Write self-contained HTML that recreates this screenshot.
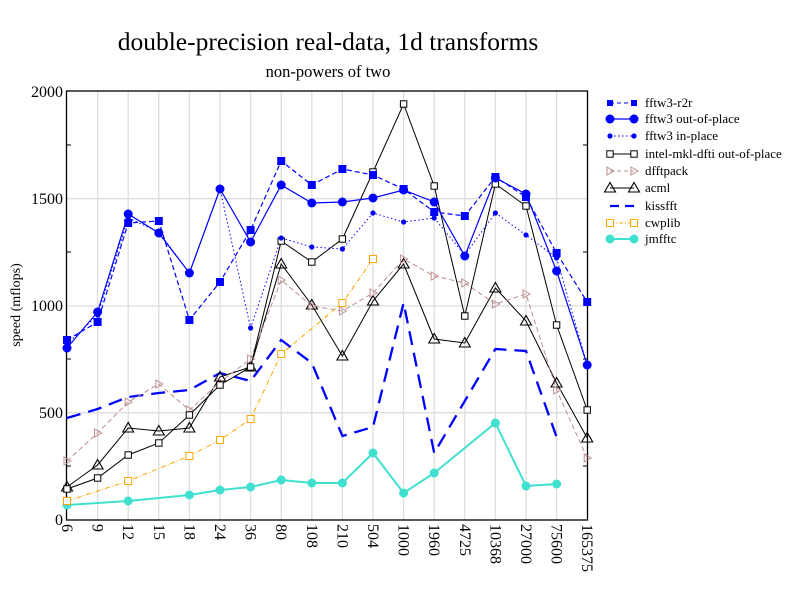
<!DOCTYPE html>
<html><head><meta charset="utf-8"><style>body{margin:0;background:#fff}svg{display:block}text{font-family:"Liberation Serif",serif;fill:#000}</style></head>
<body>
<svg width="792" height="612" viewBox="0 0 792 612" xmlns="http://www.w3.org/2000/svg">
<defs>
<g id="sqf"><rect x="-4" y="-4" width="8" height="8" fill="#00f"/></g>
<g id="cif"><circle r="4.5" fill="#00f"/></g>
<g id="dot"><circle r="2.6" fill="#00f"/></g>
<g id="sqo"><rect x="-3.2" y="-3.2" width="6.4" height="6.4" fill="#fff" stroke="#000" stroke-width="1"/></g>
<g id="trr"><path d="M-3,-4 L4,0 L-3,4 Z" fill="none" stroke="#bc8f8f" stroke-width="1"/></g>
<g id="tru"><path d="M-5.5,4 L0,-5.5 L5.5,4 Z" fill="none" stroke="#000" stroke-width="1.1"/></g>
<g id="sqor"><rect x="-3.5" y="-3.5" width="7" height="7" fill="#fff" stroke="#ffa500" stroke-width="1"/></g>
<g id="tq"><circle r="4.5" fill="#40e0d0"/></g>
</defs>
<text x="328" y="50" font-size="25.5" text-anchor="middle">double-precision real-data, 1d transforms</text>
<text x="328" y="77" font-size="16.5" text-anchor="middle">non-powers of two</text>
<g stroke="#dddddd" stroke-width="1.3">
<line x1="97.6" y1="91" x2="97.6" y2="520"/><line x1="128.2" y1="91" x2="128.2" y2="520"/><line x1="158.8" y1="91" x2="158.8" y2="520"/><line x1="189.4" y1="91" x2="189.4" y2="520"/><line x1="220" y1="91" x2="220" y2="520"/><line x1="250.6" y1="91" x2="250.6" y2="520"/><line x1="281.2" y1="91" x2="281.2" y2="520"/><line x1="311.8" y1="91" x2="311.8" y2="520"/><line x1="342.4" y1="91" x2="342.4" y2="520"/><line x1="373" y1="91" x2="373" y2="520"/><line x1="403.6" y1="91" x2="403.6" y2="520"/><line x1="434.2" y1="91" x2="434.2" y2="520"/><line x1="464.8" y1="91" x2="464.8" y2="520"/><line x1="495.4" y1="91" x2="495.4" y2="520"/><line x1="526" y1="91" x2="526" y2="520"/><line x1="556.6" y1="91" x2="556.6" y2="520"/>
<line x1="67" y1="198.7" x2="587" y2="198.7"/><line x1="67" y1="306" x2="587" y2="306"/><line x1="67" y1="412.7" x2="587" y2="412.7"/>
</g>
<g stroke="#000" stroke-width="1">
<line x1="67" y1="145" x2="71" y2="145"/><line x1="67" y1="252" x2="71" y2="252"/><line x1="67" y1="359" x2="71" y2="359"/><line x1="67" y1="466" x2="71" y2="466"/>
<line x1="583" y1="145" x2="587" y2="145"/><line x1="583" y1="252" x2="587" y2="252"/><line x1="583" y1="359" x2="587" y2="359"/><line x1="583" y1="466" x2="587" y2="466"/>
</g>
<rect x="66.5" y="91" width="521" height="429" fill="none" stroke="#000" stroke-width="1.3"/>
<g font-size="16" text-anchor="end">
<text x="63" y="97">2000</text><text x="63" y="204">1500</text><text x="63" y="311">1000</text><text x="63" y="418">500</text><text x="63" y="525">0</text>
</g>
<text transform="translate(20,305) rotate(-90)" font-size="14" text-anchor="middle">speed (mflops)</text>
<g font-size="16">
<text transform="translate(62,524) rotate(90)">6</text>
<text transform="translate(92.6,524) rotate(90)">9</text>
<text transform="translate(123.2,524) rotate(90)">12</text>
<text transform="translate(153.8,524) rotate(90)">15</text>
<text transform="translate(184.4,524) rotate(90)">18</text>
<text transform="translate(215,524) rotate(90)">24</text>
<text transform="translate(245.6,524) rotate(90)">36</text>
<text transform="translate(276.2,524) rotate(90)">80</text>
<text transform="translate(306.8,524) rotate(90)">108</text>
<text transform="translate(337.4,524) rotate(90)">210</text>
<text transform="translate(368,524) rotate(90)">504</text>
<text transform="translate(398.6,524) rotate(90)">1000</text>
<text transform="translate(429.2,524) rotate(90)">1960</text>
<text transform="translate(459.8,524) rotate(90)">4725</text>
<text transform="translate(490.4,524) rotate(90)">10368</text>
<text transform="translate(521,524) rotate(90)">27000</text>
<text transform="translate(551.6,524) rotate(90)">75600</text>
<text transform="translate(582.2,524) rotate(90)">165375</text>
</g>
<g fill="none">
<polyline stroke="#40e0d0" stroke-width="2" points="67,505 128.2,501 189.4,495 220,490 250.6,487 281.2,480 311.8,483 342.4,483 373,453 403.6,493 434.2,473 495.4,423 526,486 556.6,484"/>
<polyline stroke="#ffa500" stroke-width="1" stroke-dasharray="5,2,1,2" points="67,501 128.2,481 189.4,456 220,440 250.6,419 281.2,354 342.4,303 373,259"/>
<polyline stroke="#00f" stroke-width="2.3" stroke-dasharray="14,8" points="67,418 97.6,409 128.2,397 158.8,393 189.4,390 220,373 250.6,381 281.2,340 311.8,363 342.4,436 373,427 403.6,303 434.2,453 464.8,401 495.4,349 526,351 556.6,437"/>
<polyline stroke="#000" stroke-width="1" points="67,487 97.6,465 128.2,428 158.8,431 189.4,428 220,377 250.6,367 281.2,264 311.8,305 342.4,356 373,301 403.6,264 434.2,339 464.8,343 495.4,288 526,321 556.6,383 587.2,438"/>
<polyline stroke="#bc8f8f" stroke-width="1" stroke-dasharray="5,3" points="67,461 97.6,433 128.2,402 158.8,384 189.4,410 220,382 250.6,359 281.2,280 311.8,306 342.4,311 373,293 403.6,259 434.2,276 464.8,283 495.4,304 526,294 556.6,390 587.2,458"/>
<polyline stroke="#000" stroke-width="1" points="67,489 97.6,478 128.2,455 158.8,443 189.4,415 220,385 250.6,367 281.2,241 311.8,262 342.4,239 373,172 403.6,104 434.2,186 464.8,316 495.4,184 526,206 556.6,325 587.2,410"/>
<polyline stroke="#00f" stroke-width="1" stroke-dasharray="1.5,2.5" points="67,344 97.6,315 128.2,218 158.8,232 189.4,273 220,189 250.6,328 281.2,238 311.8,247 342.4,249 373,213 403.6,222 434.2,218 464.8,255 495.4,213 526,235 556.6,258 587.2,365"/>
<polyline stroke="#00f" stroke-width="1.2" points="67,348 97.6,312 128.2,214 158.8,233 189.4,273 220,189 250.6,242 281.2,185 311.8,203 342.4,202 373,198 403.6,190 434.2,202 464.8,256 495.4,178 526,194 556.6,271 587.2,365"/>
<polyline stroke="#00f" stroke-width="1.2" stroke-dasharray="5,3" points="67,340 97.6,322 128.2,223 158.8,221 189.4,320 220,282 250.6,230 281.2,161 311.8,185 342.4,169 373,175 403.6,189 434.2,212 464.8,216 495.4,177 526,197 556.6,253 587.2,302"/>
</g>
<g>
<use href="#tq" x="67" y="505"/><use href="#tq" x="128.2" y="501"/><use href="#tq" x="189.4" y="495"/><use href="#tq" x="220" y="490"/><use href="#tq" x="250.6" y="487"/><use href="#tq" x="281.2" y="480"/><use href="#tq" x="311.8" y="483"/><use href="#tq" x="342.4" y="483"/><use href="#tq" x="373" y="453"/><use href="#tq" x="403.6" y="493"/><use href="#tq" x="434.2" y="473"/><use href="#tq" x="495.4" y="423"/><use href="#tq" x="526" y="486"/><use href="#tq" x="556.6" y="484"/>
<use href="#sqor" x="67" y="501"/><use href="#sqor" x="128.2" y="481"/><use href="#sqor" x="189.4" y="456"/><use href="#sqor" x="220" y="440"/><use href="#sqor" x="250.6" y="419"/><use href="#sqor" x="281.2" y="354"/><use href="#sqor" x="342.4" y="303"/><use href="#sqor" x="373" y="259"/>
<use href="#tru" x="67" y="487"/><use href="#tru" x="97.6" y="465"/><use href="#tru" x="128.2" y="428"/><use href="#tru" x="158.8" y="431"/><use href="#tru" x="189.4" y="428"/><use href="#tru" x="220" y="377"/><use href="#tru" x="250.6" y="367"/><use href="#tru" x="281.2" y="264"/><use href="#tru" x="311.8" y="305"/><use href="#tru" x="342.4" y="356"/><use href="#tru" x="373" y="301"/><use href="#tru" x="403.6" y="264"/><use href="#tru" x="434.2" y="339"/><use href="#tru" x="464.8" y="343"/><use href="#tru" x="495.4" y="288"/><use href="#tru" x="526" y="321"/><use href="#tru" x="556.6" y="383"/><use href="#tru" x="587.2" y="438"/>
<use href="#trr" x="67" y="461"/><use href="#trr" x="97.6" y="433"/><use href="#trr" x="128.2" y="402"/><use href="#trr" x="158.8" y="384"/><use href="#trr" x="189.4" y="410"/><use href="#trr" x="220" y="382"/><use href="#trr" x="250.6" y="359"/><use href="#trr" x="281.2" y="280"/><use href="#trr" x="311.8" y="306"/><use href="#trr" x="342.4" y="311"/><use href="#trr" x="373" y="293"/><use href="#trr" x="403.6" y="259"/><use href="#trr" x="434.2" y="276"/><use href="#trr" x="464.8" y="283"/><use href="#trr" x="495.4" y="304"/><use href="#trr" x="526" y="294"/><use href="#trr" x="556.6" y="390"/><use href="#trr" x="587.2" y="458"/>
<use href="#sqo" x="67" y="489"/><use href="#sqo" x="97.6" y="478"/><use href="#sqo" x="128.2" y="455"/><use href="#sqo" x="158.8" y="443"/><use href="#sqo" x="189.4" y="415"/><use href="#sqo" x="220" y="385"/><use href="#sqo" x="250.6" y="367"/><use href="#sqo" x="281.2" y="241"/><use href="#sqo" x="311.8" y="262"/><use href="#sqo" x="342.4" y="239"/><use href="#sqo" x="373" y="172"/><use href="#sqo" x="403.6" y="104"/><use href="#sqo" x="434.2" y="186"/><use href="#sqo" x="464.8" y="316"/><use href="#sqo" x="495.4" y="184"/><use href="#sqo" x="526" y="206"/><use href="#sqo" x="556.6" y="325"/><use href="#sqo" x="587.2" y="410"/>
<use href="#dot" x="67" y="344"/><use href="#dot" x="97.6" y="315"/><use href="#dot" x="128.2" y="218"/><use href="#dot" x="158.8" y="232"/><use href="#dot" x="189.4" y="273"/><use href="#dot" x="220" y="189"/><use href="#dot" x="250.6" y="328"/><use href="#dot" x="281.2" y="238"/><use href="#dot" x="311.8" y="247"/><use href="#dot" x="342.4" y="249"/><use href="#dot" x="373" y="213"/><use href="#dot" x="403.6" y="222"/><use href="#dot" x="434.2" y="218"/><use href="#dot" x="464.8" y="255"/><use href="#dot" x="495.4" y="213"/><use href="#dot" x="526" y="235"/><use href="#dot" x="556.6" y="258"/><use href="#dot" x="587.2" y="365"/>
<use href="#cif" x="67" y="348"/><use href="#cif" x="97.6" y="312"/><use href="#cif" x="128.2" y="214"/><use href="#cif" x="158.8" y="233"/><use href="#cif" x="189.4" y="273"/><use href="#cif" x="220" y="189"/><use href="#cif" x="250.6" y="242"/><use href="#cif" x="281.2" y="185"/><use href="#cif" x="311.8" y="203"/><use href="#cif" x="342.4" y="202"/><use href="#cif" x="373" y="198"/><use href="#cif" x="403.6" y="190"/><use href="#cif" x="434.2" y="202"/><use href="#cif" x="464.8" y="256"/><use href="#cif" x="495.4" y="178"/><use href="#cif" x="526" y="194"/><use href="#cif" x="556.6" y="271"/><use href="#cif" x="587.2" y="365"/>
<use href="#sqf" x="67" y="340"/><use href="#sqf" x="97.6" y="322"/><use href="#sqf" x="128.2" y="223"/><use href="#sqf" x="158.8" y="221"/><use href="#sqf" x="189.4" y="320"/><use href="#sqf" x="220" y="282"/><use href="#sqf" x="250.6" y="230"/><use href="#sqf" x="281.2" y="161"/><use href="#sqf" x="311.8" y="185"/><use href="#sqf" x="342.4" y="169"/><use href="#sqf" x="373" y="175"/><use href="#sqf" x="403.6" y="189"/><use href="#sqf" x="434.2" y="212"/><use href="#sqf" x="464.8" y="216"/><use href="#sqf" x="495.4" y="177"/><use href="#sqf" x="526" y="197"/><use href="#sqf" x="556.6" y="253"/><use href="#sqf" x="587.2" y="302"/>
</g>
<g fill="none">
<line x1="610" y1="103" x2="634" y2="103" stroke="#00f" stroke-dasharray="4,3"/>
<line x1="610" y1="119" x2="634" y2="119" stroke="#00f" stroke-width="1.2"/>
<line x1="610" y1="136" x2="634" y2="136" stroke="#00f" stroke-dasharray="1.5,2.5"/>
<line x1="610" y1="154" x2="634" y2="154" stroke="#000"/>
<line x1="610" y1="171" x2="634" y2="171" stroke="#bc8f8f" stroke-dasharray="4,3"/>
<line x1="610" y1="188" x2="634" y2="188" stroke="#555" stroke-width="1.5"/>
<line x1="610" y1="206" x2="634" y2="206" stroke="#00f" stroke-width="2.3" stroke-dasharray="9,6"/>
<line x1="610" y1="223" x2="634" y2="223" stroke="#ffa500" stroke-dasharray="4,2,1,2"/>
<line x1="610" y1="239" x2="634" y2="239" stroke="#40e0d0" stroke-width="2"/>
</g>
<g>
<rect x="607" y="100" width="6" height="6" fill="#00f"/><rect x="631" y="100" width="6" height="6" fill="#00f"/>
<use href="#cif" x="610" y="119"/><use href="#cif" x="634" y="119"/>
<use href="#dot" x="610" y="136"/><use href="#dot" x="634" y="136"/>
<use href="#sqo" x="610" y="154"/><use href="#sqo" x="634" y="154"/>
<use href="#trr" x="610" y="171"/><use href="#trr" x="634" y="171"/>
<use href="#tru" x="610" y="188"/><use href="#tru" x="634" y="188"/>
<use href="#sqor" x="610" y="223"/><use href="#sqor" x="634" y="223"/>
<use href="#tq" x="610" y="239"/><use href="#tq" x="634" y="239"/>
</g>
<g font-size="13">
<text x="645" y="107">fftw3-r2r</text>
<text x="645" y="123">fftw3 out-of-place</text>
<text x="645" y="140">fftw3 in-place</text>
<text x="645" y="158">intel-mkl-dfti out-of-place</text>
<text x="645" y="175">dfftpack</text>
<text x="645" y="192">acml</text>
<text x="645" y="210">kissfft</text>
<text x="645" y="227">cwplib</text>
<text x="645" y="243">jmfftc</text>
</g>
</svg>
</body></html>
